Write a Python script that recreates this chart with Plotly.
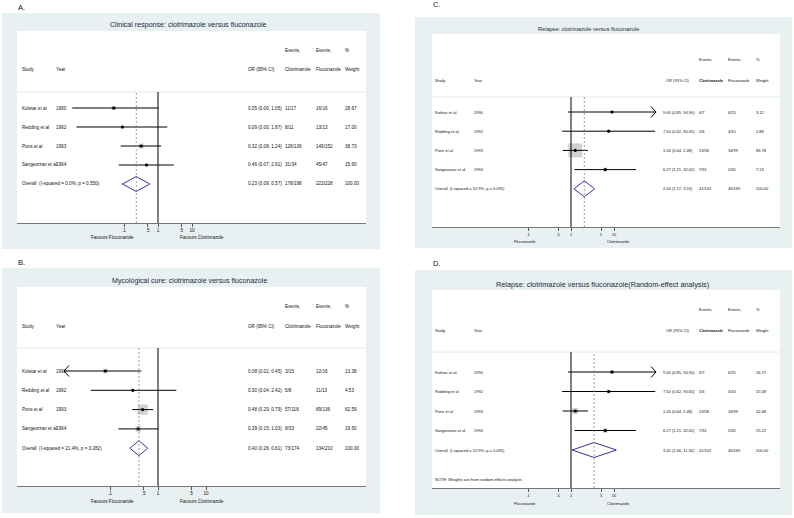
import math
import plotly.graph_objects as go

W, H = 794, 518
FONT = "Arial, Liberation Sans, sans-serif"

# ---------------- data ----------------
studies_AB = ["Koletar et al", "Redding et al", "Pons et al", "Sangeorzan et al"]
studies_CD = ["Koletar et al.", "Redding et al", "Pons et al", "Sangeorzan et al"]
years = ["1990", "1992", "1993", "1994"]
tick_vals = [0.1, 0.5, 1, 5, 10]
tick_text = [".1", ".5", "1", "5", "10"]

# Panel A
A_title = "Clinical response: clotrimazole versus fluconazole"
A_or = [0.05, 0.09, 0.32, 0.46]
A_lo = [0.003, 0.004, 0.08, 0.07]
A_hi = [1.05, 1.87, 1.24, 2.91]
A_or_text = ["0.05 (0.00, 1.05)", "0.09 (0.00, 1.87)", "0.32 (0.08, 1.24)", "0.46 (0.07, 2.91)"]
A_ev_clot = ["11/17", "8/11", "128/136", "31/34"]
A_ev_fluc = ["16/16", "13/13", "149/152", "45/47"]
A_weight = [28.67, 17.00, 38.73, 15.60]
A_overall = [0.23, 0.09, 0.57]
A_overall_label = "Overall  (I-squared = 0.0%, p = 0.550)"
A_overall_text = ["0.23 (0.09, 0.57)", "178/198", "223/228", "100.00"]

# Panel B
B_title = "Mycological cure: clotrimazole versus fluconazole"
B_or = [0.08, 0.30, 0.48, 0.39]
B_lo = [0.011, 0.04, 0.29, 0.15]
B_hi = [0.45, 2.42, 0.79, 1.03]
B_or_text = ["0.08 (0.02, 0.45)", "0.30 (0.04, 2.42)", "0.48 (0.29, 0.79)", "0.39 (0.15, 1.03)"]
B_ev_clot = ["3/15", "5/8", "57/118", "8/33"]
B_ev_fluc = ["12/16", "11/13", "89/136", "22/45"]
B_weight = [13.38, 4.53, 62.59, 19.50]
B_overall = [0.40, 0.26, 0.61]
B_overall_label = "Overall  (I-squared = 21.4%, p = 0.282)"
B_overall_text = ["0.40 (0.26, 0.61)", "73/174", "134/210", "100.00"]

# Panel C
C_title = "Relapse: clotrimazole versus fluconazole"
C_or = [9.00, 7.50, 1.26, 6.27]
C_lo = [0.85, 0.62, 0.64, 1.21]
C_hi = [94.90, 90.65, 2.48, 32.62]
C_or_text = ["9.00 (0.85, 94.90)", "7.50 (0.62, 90.65)", "1.26 (0.64, 2.48)", "6.27 (1.21, 32.62)"]
C_ev_clot = ["6/7", "5/6", "23/58", "7/31"]
C_ev_fluc = ["6/15", "4/10", "34/99", "2/45"]
C_weight = [3.12, 2.88, 86.78, 7.23]
C_overall = [2.04, 1.17, 3.55]
C_overall_label = "Overall  (I-squared = 52.9%, p = 0.095)"
C_overall_text = ["2.04 (1.17, 3.55)", "41/102", "46/169", "100.00"]

# Panel D
D_title = "Relapse: clotrimazole versus fluconazole(Random-effect analysis)"
D_weight = [16.72, 15.58, 42.48, 25.22]
D_overall = [3.45, 1.06, 11.30]
D_overall_text = ["3.45 (1.06, 11.30)", "41/102", "46/169", "100.00"]
D_note = "NOTE: Weights are from random effects analysis"

# ---------------- layout geometry (pixels) ----------------
panels = [
    dict(ax="", letter="A.", letter_xy=(17, 8), box=(2, 13, 380, 249), white=(17, 31, 366, 223),
         sep=92, title=A_title, title_xy=(188, 25), title_size=7.1, fs=4.6,
         hdr=(50, 69), row0=108, sp=19,
         null=158, ppd=34, fav_y=238, fav_x=(113, 202),
         fav_text=("Favours Fluconazole", "Favours Clotrimazole"),
         cols=(21, 55, 247, 284, 315, 344), hdr_or_x=247, dh=7.5, box_k=0.8,
         studies=studies_AB, orv=A_or, lo=A_lo, hi=A_hi, or_text=A_or_text,
         ev1=A_ev_clot, ev2=A_ev_fluc, wt=A_weight, ov=A_overall,
         ov_label=A_overall_label, ov_text=A_overall_text, arrows=[], note=None),
    dict(ax="2", letter="B.", letter_xy=(17, 262), box=(2, 268, 380, 513), white=(17, 287, 366, 486),
         sep=348, title=B_title, title_xy=(189, 281), title_size=7.1, fs=4.6,
         hdr=(306, 326), row0=371, sp=19.3,
         null=158, ppd=48, fav_y=501, fav_x=(113, 202),
         fav_text=("Favours Fluconazole", "Favours Clotrimazole"),
         cols=(21, 55, 247, 284, 315, 344), hdr_or_x=247, dh=7.5, box_k=1.27,
         studies=studies_AB, orv=B_or, lo=B_lo, hi=B_hi, or_text=B_or_text,
         ev1=B_ev_clot, ev2=B_ev_fluc, wt=B_weight, ov=B_overall,
         ov_label=B_overall_label, ov_text=B_overall_text, arrows=[(0, "lo")], note=None),
    dict(ax="3", letter="C.", letter_xy=(432, 5), box=(415, 17, 792, 248), white=(432, 34, 780, 227),
         sep=97, title=C_title, title_xy=(588, 29), title_size=5.6, fs=4.0,
         hdr=(59, 80), row0=112, sp=19.2,
         null=571, ppd=43, fav_y=241, fav_x=(525, 618),
         fav_text=("Fluconazole", "Clotrimazole"),
         cols=(434, 473, 662, 698, 727, 755), hdr_or_x=665, dh=8, box_k=1.5,
         studies=studies_CD, orv=C_or, lo=C_lo, hi=C_hi, or_text=C_or_text,
         ev1=C_ev_clot, ev2=C_ev_fluc, wt=C_weight, ov=C_overall,
         ov_label=C_overall_label, ov_text=C_overall_text, arrows=[(0, "hi")], note=None),
    dict(ax="4", letter="D.", letter_xy=(432, 263), box=(415, 270, 792, 515), white=(432, 290, 780, 488),
         sep=352, title=D_title, title_xy=(602, 284), title_size=7.3, fs=4.0,
         hdr=(309, 330), row0=372, sp=19.5,
         null=571, ppd=43, fav_y=503, fav_x=(525, 618),
         fav_text=("Fluconazole", "Clotrimazole"),
         cols=(434, 473, 662, 698, 727, 755), hdr_or_x=665, dh=7.5, box_k=0.92,
         studies=studies_CD, orv=C_or, lo=C_lo, hi=C_hi, or_text=C_or_text,
         ev1=C_ev_clot, ev2=C_ev_fluc, wt=D_weight, ov=D_overall,
         ov_label=C_overall_label, ov_text=D_overall_text, arrows=[(0, "hi")], note=D_note),
]

BOX_BG = "#e8f0f2"
TXT = "#111111"
DIAMOND = "#34349a"


def X(px):
    return px / W


def Y(py):
    return 1 - py / H


fig = go.Figure()
shapes = []
annotations = []


def txt(x, y, s, size=4.6, anchor="left", color=TXT, bold=False):
    if bold:
        s = "<b>" + s + "</b>"
    annotations.append(dict(x=X(x), y=Y(y), xref="paper", yref="paper", text=s,
                            showarrow=False, xanchor=anchor, yanchor="middle",
                            borderpad=0, font=dict(size=size, color=color, family=FONT)))


layout_axes = {}
for p in panels:
    xa = "x" + p["ax"]
    ya = "y" + p["ax"]
    fs = p["fs"]
    wx0, wy0, wx1, wy1 = p["white"]
    bx0, by0, bx1, by1 = p["box"]
    # background boxes
    shapes.append(dict(type="rect", xref="paper", yref="paper", x0=X(bx0), x1=X(bx1),
                       y0=Y(by1), y1=Y(by0), fillcolor=BOX_BG, line=dict(width=0), layer="below"))
    shapes.append(dict(type="rect", xref="paper", yref="paper", x0=X(wx0), x1=X(wx1),
                       y0=Y(wy1), y1=Y(wy0), fillcolor="white", line=dict(width=0), layer="below"))
    shapes.append(dict(type="line", xref="paper", yref="paper", x0=X(wx0), x1=X(wx1),
                       y0=Y(p["sep"]), y1=Y(p["sep"]), line=dict(color="#dde5e8", width=0.8),
                       layer="below"))

    # axes
    xr = [(wx0 - p["null"]) / p["ppd"], (wx1 - p["null"]) / p["ppd"]]
    yr = [(wy1 - p["row0"]) / p["sp"], (p["sep"] - p["row0"]) / p["sp"]]
    layout_axes["xaxis" + p["ax"]] = dict(type="log", domain=[X(wx0), X(wx1)], range=xr, anchor=ya,
                                          tickvals=tick_vals, ticktext=tick_text, ticks="outside",
                                          ticklen=3, tickwidth=0.7, tickcolor="#555", showline=True,
                                          linecolor="#777", linewidth=0.8, showgrid=False,
                                          zeroline=False,
                                          tickfont=dict(size=fs, color=TXT, family=FONT),
                                          fixedrange=True)
    layout_axes["yaxis" + p["ax"]] = dict(domain=[Y(wy1), Y(p["sep"])], range=yr,
                                          visible=False, anchor=xa, fixedrange=True)

    # reference lines
    shapes.append(dict(type="line", xref=xa, yref=ya + " domain", x0=1, x1=1, y0=0, y1=1,
                       line=dict(color="black", width=1)))
    shapes.append(dict(type="line", xref=xa, yref=ya + " domain", x0=p["ov"][0], x1=p["ov"][0],
                       y0=0, y1=1, line=dict(color="#888", width=0.8, dash="2px,2px")))

    n = len(p["orv"])
    rows = list(range(n))
    # weight boxes
    fig.add_trace(go.Scatter(x=p["orv"], y=rows, mode="markers", xaxis=xa, yaxis=ya,
                             marker=dict(symbol="square", color="#bdbdbd",
                                         size=[p["box_k"] * math.sqrt(w) for w in p["wt"]],
                                         line=dict(width=0)),
                             hoverinfo="skip", showlegend=False))
    # CI lines
    cx, cy = [], []
    for i in rows:
        cx += [p["lo"][i], p["hi"][i], None]
        cy += [i, i, None]
    fig.add_trace(go.Scatter(x=cx, y=cy, mode="lines", xaxis=xa, yaxis=ya,
                             line=dict(color="black", width=1), hoverinfo="skip",
                             showlegend=False))
    # arrows for truncated CIs
    for (i, side) in p["arrows"]:
        off = 5.0 / p["ppd"]
        hh = 5.5 / p["sp"]
        if side == "lo":
            tip = p["lo"][i]
            back = tip * 10 ** off
        else:
            tip = p["hi"][i]
            back = tip * 10 ** (-off)
        fig.add_trace(go.Scatter(x=[back, tip, back], y=[i - hh, i, i + hh], mode="lines",
                                 xaxis=xa, yaxis=ya, line=dict(color="black", width=1),
                                 hoverinfo="skip", showlegend=False))
    # point estimates
    fig.add_trace(go.Scatter(x=p["orv"], y=rows, mode="markers", xaxis=xa, yaxis=ya,
                             marker=dict(symbol="circle", color="black", size=3.2),
                             hoverinfo="skip", showlegend=False))
    # overall diamond
    est, lo, hi = p["ov"]
    h = p["dh"] / p["sp"]
    fig.add_trace(go.Scatter(x=[lo, est, hi, est, lo], y=[n, n - h, n, n + h, n],
                             mode="lines", xaxis=xa, yaxis=ya,
                             line=dict(color=DIAMOND, width=1), hoverinfo="skip",
                             showlegend=False))

    # texts
    txt(p["letter_xy"][0], p["letter_xy"][1], p["letter"], size=7.5, color="#111")
    txt(p["title_xy"][0], p["title_xy"][1], p["title"], size=p["title_size"], anchor="center",
        color="#1c2a3a")
    c = p["cols"]
    h1, h2 = p["hdr"]
    txt(c[0], h2, "Study", fs)
    txt(c[1], h2, "Year", fs)
    txt(p["hdr_or_x"], h2, "OR (95% CI)", fs)
    txt(c[3], h1, "Events,", fs)
    txt(c[3], h2, "Clotrimazole", fs, bold=(p["ax"] in ("3", "4")))
    txt(c[4], h1, "Events,", fs)
    txt(c[4], h2, "Fluconazole", fs)
    txt(c[5], h1, "%", fs)
    txt(c[5], h2, "Weight", fs)
    for i in rows:
        yy = p["row0"] + i * p["sp"]
        txt(c[0], yy, p["studies"][i], fs)
        txt(c[1], yy, years[i], fs)
        txt(c[2], yy, p["or_text"][i], fs)
        txt(c[3], yy, p["ev1"][i], fs)
        txt(c[4], yy, p["ev2"][i], fs)
        txt(c[5], yy, "%.2f" % p["wt"][i], fs)
    yy = p["row0"] + n * p["sp"]
    txt(c[0], yy, p["ov_label"], fs)
    txt(c[2], yy, p["ov_text"][0], fs)
    txt(c[3], yy, p["ov_text"][1], fs)
    txt(c[4], yy, p["ov_text"][2], fs)
    txt(c[5], yy, p["ov_text"][3], fs)
    if p["note"]:
        txt(c[0], wy1 - 9, p["note"], fs)
    txt(p["fav_x"][0], p["fav_y"], p["fav_text"][0], fs, anchor="center")
    txt(p["fav_x"][1], p["fav_y"], p["fav_text"][1], fs, anchor="center")

fig.update_layout(width=W, height=H, margin=dict(l=0, r=0, t=0, b=0),
                  paper_bgcolor="white", plot_bgcolor="rgba(0,0,0,0)",
                  shapes=shapes, annotations=annotations, showlegend=False,
                  **layout_axes)
fig.write_html("out.html", config={"displayModeBar": False},
               post_script="document.body.style.margin='0';")
